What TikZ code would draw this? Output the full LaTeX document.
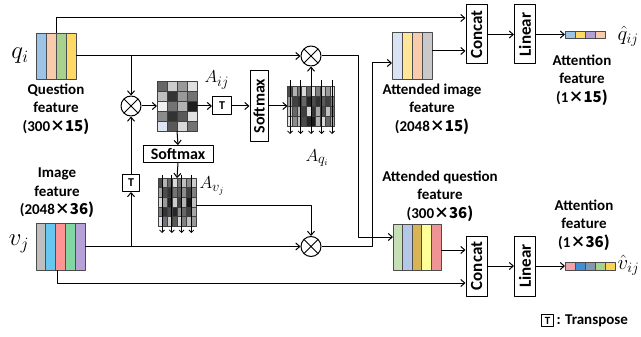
\documentclass[tikz,border=0pt]{standalone}
\usepackage{fontspec}
\setmainfont{Carlito}
\newfontfamily\cjk{Noto Sans CJK SC}
\usetikzlibrary{positioning,calc,arrows.meta}

\definecolor{qblue}{HTML}{9DC3E6}
\definecolor{qpeach}{HTML}{F8CBAD}
\definecolor{qgreen}{HTML}{A9D18E}
\definecolor{qyellow}{HTML}{FFD966}
\definecolor{vgray}{HTML}{BFBFBF}
\definecolor{vcyan}{HTML}{66C8F0}
\definecolor{vpink}{HTML}{FF9494}
\definecolor{vgreen}{HTML}{82D6A2}
\definecolor{vpurple}{HTML}{B7A2D8}
\definecolor{iblue}{HTML}{DAE3F3}
\definecolor{iyellow}{HTML}{FFE699}
\definecolor{igray}{HTML}{C9C9C9}
\definecolor{agreen}{HTML}{C5E0B4}
\definecolor{ablue}{HTML}{B4C7E7}
\definecolor{agold}{HTML}{D8B455}
\definecolor{ayellow}{HTML}{FFFF99}
\definecolor{apink}{HTML}{EE9494}
\definecolor{hpurple}{HTML}{B4A0D6}
\definecolor{hpink}{HTML}{F2A2AA}
\definecolor{hblue}{HTML}{3D8FD8}
\definecolor{hslate}{HTML}{8497B0}
\definecolor{hyellow}{HTML}{FFD24D}
\definecolor{cellblue}{HTML}{DCE6F2}

% stripes of a feature block
\newcommand\stripes[4]{%
  \foreach \c [count=\k from 0] in {#4}
    \draw[fill=\c, line width=.8pt, draw=black!70] ($(#1.north west)+(\k*#2,0)$) rectangle ++(#2,#3);}
% grey attention map
\newcommand\heatmap[5]{%
  \foreach \g [count=\n from 0] in {#5}{
    \pgfmathtruncatemacro\cc{mod(\n,#2)}
    \pgfmathtruncatemacro\rr{(\n-\cc)/#2}
    \draw[fill=\g, line width=.6pt, draw=black!75] ($(#1.north west)+(\cc*#3,\rr*#4)$) rectangle ++(#3,#4);}}

\tikzset{
  lbl/.style={font=\bfseries\fontsize{15}{18.5}\selectfont, align=center, inner sep=0},
  mlbl/.style={inner sep=0, font=\fontsize{#1}{#1}\selectfont},
  blk/.style={inner sep=0, outer sep=0},
  opbox/.style={draw, line width=1pt, inner sep=0, font=\bfseries\fontsize{16}{16}\selectfont},
  tbox/.style={draw, line width=1pt, minimum size=17pt, inner sep=0, font=\bfseries\fontsize{12}{12}\selectfont},
  mul/.style={circle, draw, line width=1pt, minimum size=20pt, inner sep=0,
    path picture={\draw[line width=1pt] (path picture bounding box.north west) -- (path picture bounding box.south east)
      (path picture bounding box.south west) -- (path picture bounding box.north east);}},
  sarr/.style={-{Straight Barb[length=2.5pt,width=5pt]}, line width=.8pt},
}

\begin{document}
\begin{tikzpicture}[x=1pt, y=-1pt, line width=1pt, line join=round, >={Straight Barb[length=4pt,width=7pt]}]
\useasboundingbox (0,0) rectangle (641,337);

% inputs
\node[blk, minimum width=40pt, minimum height=46pt] (q) at (56,56) {};
\stripes{q}{10}{46}{qblue,qpeach,qgreen,qyellow}
\node[blk, minimum width=49pt, minimum height=47pt] (v) at (60.5,246.5) {};
\stripes{v}{9.8}{47}{vgray,vcyan,vpink,vgreen,vpurple}
\node[mlbl=26] (qname) at (20,56) {$q_i$};
\node[mlbl=26] (vname) at (19,244) {$v_j$};
\node[lbl] (qlbl) at (56,109) {Question\\feature\\(300\cjk{×}15)};
\node[lbl] (vlbl) at (57,193) {Image\\feature\\(2048\cjk{×}36)};

% operators
\node[mul] (m1) at (131,106) {};
\node[mul] (m2) at (311,56) {};
\node[mul] (m3) at (311,246.5) {};
\node[tbox] (t1) at (131,183) {T};
\node[tbox, minimum width=19pt, minimum height=18pt] (t2) at (222,106) {T};
\node[opbox, rotate=90, minimum width=71pt, minimum height=18pt] (sm1) at (259,106) {Softmax};
\node[opbox, minimum width=70pt, minimum height=17pt] (sm2) at (178,154) {Softmax};

% attention maps
\node[blk, minimum width=40pt, minimum height=50pt] (aij) at (177,106) {};
\heatmap{aij}{4}{10}{10}{black!60,black!20,black!40,black!12,
  black!25,black!80,black!40,black!55, black!6,black!55,black!30,black!88,
  black!45,black!80,black!65,black!12, cellblue,black!65,black!15,black!55}
\node[blk, minimum width=47pt, minimum height=40pt] (aqi) at (311,106) {};
\heatmap{aqi}{10}{4.7}{10}{black!70,black!30,black!55,black!15,black!60,black!10,black!50,black!20,black!40,cellblue,
  black!40,black!75,black!80,black!60,black!85,black!70,black!80,black!65,black!75,black!50,
  black!20,black!60,black!30,black!75,black!15,black!80,black!35,black!70,black!25,black!55,
  black!10,black!45,black!25,black!70,black!85,black!90,black!30,black!15,black!60,black!35}
\node[blk, minimum width=38pt, minimum height=48pt] (avj) at (177,202) {};
\heatmap{avj}{8}{4.75}{9.6}{black!70,black!30,black!60,black!15,black!55,black!25,black!45,black!20,
  black!35,black!70,black!80,black!55,black!65,black!45,black!75,black!50,
  black!15,black!40,black!85,black!20,black!75,black!30,black!90,black!25,
  black!50,black!80,black!70,black!85,black!45,black!60,black!75,black!35,
  cellblue,black!55,black!20,black!65,black!15,black!50,black!25,black!40}
\foreach \k in {0,...,4}
  \draw[sarr] ($(aqi.north west)+(2.5+\k*10.5,-6)$) -- ++(0,54);
\foreach \k in {0,...,3}
  \draw[sarr] ($(avj.north west)+(4+\k*9.8,-3)$) -- ++(0,58);
\node[mlbl=19, anchor=west] (aijname) at (204,80) {$A_{ij}$};
\node[mlbl=19, anchor=west] (aqname) at (305,158) {$A_{q_i}$};
\node[mlbl=19, anchor=west] (avname) at (199,186) {$A_{v_j}$};

% attended features
\node[blk, minimum width=40pt, minimum height=47pt] (ai) at (412,55.5) {};
\stripes{ai}{10}{47}{iblue,iyellow,qpeach,igray}
\node[blk, minimum width=48pt, minimum height=46pt] (aq) at (417,247) {};
\stripes{aq}{9.6}{46}{agreen,ablue,agold,ayellow,apink}
\node[lbl] (ailbl) at (432,109) {Attended image\\feature\\(2048\cjk{×}15)};
\node[lbl] (aqlbl) at (440,196) {Attended question\\feature\\(300\cjk{×}36)};

% fusion
\node[opbox, rotate=90, minimum width=59pt, minimum height=21pt, font=\bfseries\fontsize{17}{17}\selectfont] (cat1) at (476.5,34.5) {Concat};
\node[opbox, rotate=90, minimum width=59pt, minimum height=21pt, font=\bfseries\fontsize{17}{17}\selectfont] (lin1) at (525,34.5) {Linear};
\node[opbox, rotate=90, minimum width=60pt, minimum height=21pt, font=\bfseries\fontsize{17}{17}\selectfont] (cat2) at (476.5,266) {Concat};
\node[opbox, rotate=90, minimum width=60pt, minimum height=21pt, font=\bfseries\fontsize{17}{17}\selectfont] (lin2) at (525,266) {Linear};
\node[blk, minimum width=40pt, minimum height=7pt] (qh) at (585,34.5) {};
\stripes{qh}{10}{7}{qblue,qyellow,hpurple,qpeach}
\node[blk, minimum width=50pt, minimum height=8pt] (vh) at (590,266) {};
\stripes{vh}{10}{8}{hpink,hblue,hslate,qgreen,hyellow}
\node[mlbl=22, anchor=west] (qhname) at (617,36) {$\hat{q}_{ij}$};
\node[mlbl=22, anchor=west] (vhname) at (617,265) {$\hat{v}_{ij}$};
\node[lbl] (qhlbl) at (582,80) {Attention\\feature\\(1\cjk{×}15)};
\node[lbl] (vhlbl) at (584,225) {Attention\\feature\\(1\cjk{×}36)};

% legend
\node[tbox, minimum size=12.5pt, font=\bfseries\fontsize{11}{11}\selectfont] (tl) at (547.5,320.5) {T};
\node[lbl, anchor=west] (tlt) at (556,321) {: Transpose};

% connectors
\draw[->] (q.east) -- (m2.west);
\draw[->] (q.east -| m1) -- (m1.north);
\draw[->] (v.east) -- (m3.west);
\draw[->] (v.east -| t1) -- (t1.south);
\draw[->] (t1.north) -- (m1.south);
\draw[->] (m1.east) -- (aij.west);
\draw[->] (aij.east) -- (t2.west);
\draw[->] (t2.east) -- (sm1.north);
\draw[->] (sm1.south) -- (aqi.west);
\draw[->] (aij.south) -- (sm2.north);
\draw[->] (sm2.south) -- (avj.north);
\draw[->] ($(aqi.north)+(0,-6)$) -- (m2.south);
\draw[->] ([yshift=-3pt]avj.east) -| (m3.north);
\coordinate (c1) at (358,237);
\coordinate (c2) at (372,63);
\draw[->] (m2.east) -| (c1) -- (c1 -| aq.west);
\draw[->] (m3.east) -| (c2) -- (c2 -| ai.west);
\draw[->] (q.north) -- ++(0,-15) coordinate (qt) -- (qt -| cat1.north);
\draw[->] ([yshift=4.5pt]ai.east) coordinate (aio) -- (aio -| cat1.north);
\draw[->] (cat1.south) -- (lin1.north);
\draw[->] (lin1.south) -- (qh.west);
\draw[->] ([yshift=-3pt]aq.east) coordinate (aqo) -- (aqo -| cat2.north);
\draw[->] ([xshift=-3.5pt]v.south) -- ++(0,13) coordinate (vb) -- (vb -| cat2.north);
\draw[->] (cat2.south) -- (lin2.north);
\draw[->] (lin2.south) -- (vh.west);
\end{tikzpicture}
\end{document}
